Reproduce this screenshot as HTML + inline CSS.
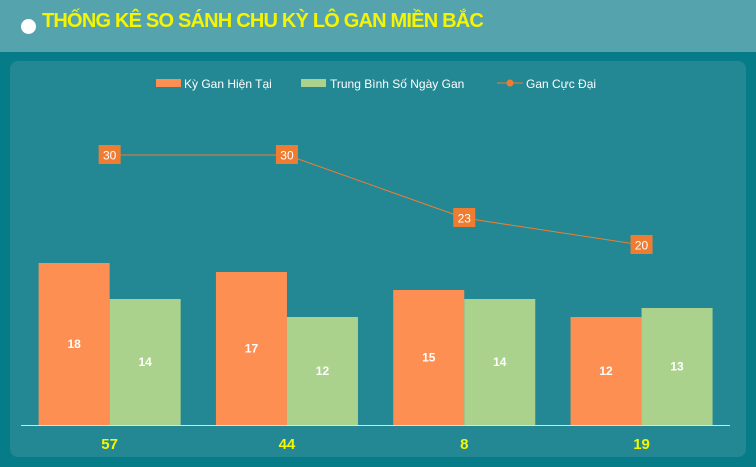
<!DOCTYPE html>
<html><head><meta charset="utf-8"><style>
body{margin:0;width:756px;height:467px;background:#067c88;font-family:"Liberation Sans",sans-serif;overflow:hidden;position:relative}
#hdr{position:absolute;left:0;top:0;width:756px;height:52px;background:#55a3ad}
#title{position:absolute;left:42px;top:10px;color:#f5f500;font-size:20px;font-weight:bold;letter-spacing:-0.8px}
#dot{position:absolute;left:21px;top:19px;width:15px;height:15px;border-radius:50%;background:#fff}
#panel{position:absolute;left:10px;top:61px;width:736px;height:396px;background:#238894;border-radius:8px}
svg{position:absolute;left:0;top:0}
</style></head><body>
<div id="hdr"><div id="dot"></div><div id="title">THỐNG KÊ SO SÁNH CHU KỲ LÔ GAN MIỀN BẮC</div></div>
<div id="panel"></div>
<svg id="chart" width="756" height="467"></svg>
<script>
const categories=["57","44","8","19"];
const current=[18,17,15,12];
const average=[14,12,14,13];
const maxGan=[30,30,23,20];
const legendLabels=["Kỳ Gan Hiện Tại","Trung Bình Số Ngày Gan","Gan Cực Đại"];
const NS="http://www.w3.org/2000/svg";
const svg=document.getElementById('chart');
const base=425,unit=9,x0=21,step=177.3,bw=71;
const y=v=>base-v*unit;
const cx=i=>x0+step*(i+0.5);
function mk(t,a){const e=document.createElementNS(NS,t);for(const k in a)e.setAttribute(k,a[k]);svg.appendChild(e);return e;}
function txt(x,yy,s,fill,size,bold,anchor){const e=mk('text',{x:x,y:yy,fill:fill,'font-size':size,'font-weight':bold?'bold':'normal','text-anchor':anchor||'middle','font-family':'Liberation Sans, sans-serif'});e.textContent=s;return e;}
categories.forEach((c,i)=>{
 let r=mk('rect',{x:cx(i)-bw,y:y(current[i]),width:bw,height:current[i]*unit,fill:'#fe8f53'});
 
 
 let t=txt(cx(i)-bw/2,(y(current[i])+base)/2+4,current[i],'#fff',12,true);
 
 
 let g=mk('rect',{x:cx(i),y:y(average[i]),width:bw,height:average[i]*unit,fill:'#abd28d'});
 
 
 let t2=txt(cx(i)+bw/2,(y(average[i])+base)/2+4,average[i],'#fff',12,true);
 
 
 let xl=txt(cx(i),449,c,'#f5f500',15,true);
 
 
});
let ax=mk('line',{x1:21,x2:730,y1:base+0.5,y2:base+0.5,stroke:'#cfe6e8','stroke-width':1});


let pts=maxGan.map((v,i)=>cx(i)+','+y(v)).join(' ');
let pl=mk('polyline',{points:pts,fill:'none',stroke:'#ee7d31','stroke-width':1});


maxGan.forEach((v,i)=>{
 let b=mk('rect',{x:cx(i)-11,y:y(v)-10,width:22,height:19,fill:'#ee7d31'});
 
 
 let t=txt(cx(i),y(v)+4.5,v,'#fff',12,false);
 
 
});
// legend
let l1=mk('rect',{x:156,y:79,width:25,height:8,fill:'#fe8f53'});


let lt1=txt(184,88,legendLabels[0],'#fff',12,false,'start');


let l2=mk('rect',{x:301,y:79,width:25,height:8,fill:'#abd28d'});


let lt2=txt(330,88,legendLabels[1],'#fff',12,false,'start');


let l3=mk('line',{x1:497,x2:523,y1:83,y2:83,stroke:'#ee7d31','stroke-width':1});


let l3c=mk('circle',{cx:510,cy:83,r:3.5,fill:'#ee7d31'});


let lt3=txt(526,88,legendLabels[2],'#fff',12,false,'start');


</script>
</body></html>
